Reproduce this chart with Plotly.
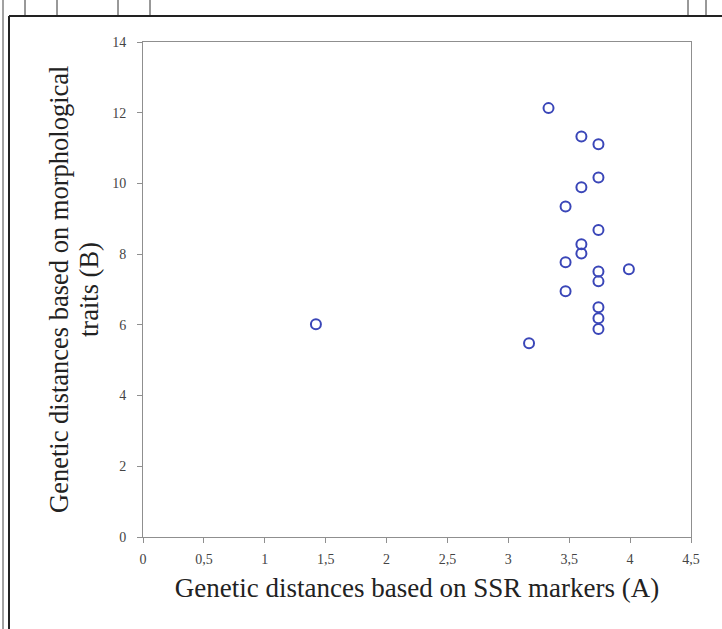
import plotly.graph_objects as go

# Data
ssr_distance = [1.42, 3.17, 3.33, 3.60, 3.74, 3.74, 3.60, 3.47, 3.74, 3.60, 3.60,
                3.47, 3.99, 3.74, 3.74, 3.47, 3.74, 3.74, 3.74]
morph_distance = [6.02, 5.48, 12.13, 11.33, 11.11, 10.17, 9.89, 9.35, 8.68, 8.28, 8.02,
                  7.77, 7.57, 7.51, 7.23, 6.95, 6.50, 6.19, 5.88]

x_tick_vals = [0, 0.5, 1, 1.5, 2, 2.5, 3, 3.5, 4, 4.5]
x_tick_text = ["0", "0,5", "1", "1,5", "2", "2,5", "3", "3,5", "4", "4,5"]
y_tick_vals = [0, 2, 4, 6, 8, 10, 12, 14]
y_title_lines = ["Genetic distances based on morphological", "traits (B)"]

W, H = 722, 629
L, R, T, B = 143, 31, 42, 92
pw, ph = W - L - R, H - T - B

def px(x):
    return (x - L) / pw

def py(y):
    return (H - B - y) / ph

fig = go.Figure()
fig.add_trace(go.Scatter(
    x=ssr_distance, y=morph_distance, mode="markers",
    marker=dict(symbol="circle-open", size=10, color="#3a46b8",
                line=dict(width=2, color="#3a46b8")),
    showlegend=False, hoverinfo="x+y"))

axis_common = dict(showgrid=False, zeroline=False, showline=True, linecolor="#8f8f8f",
                   linewidth=1, ticks="outside", ticklen=5, tickcolor="#8f8f8f",
                   mirror=True,
                   tickfont=dict(family="Liberation Serif", size=14, color="#444444"))

fig.update_xaxes(range=[0, 4.5], tickvals=x_tick_vals, ticktext=x_tick_text,
                 ticklabelstandoff=4,
                 title=dict(text="Genetic distances based on SSR markers (A)",
                            font=dict(family="Liberation Serif", size=27, color="#222222"),
                            standoff=12),
                 **axis_common)
fig.update_yaxes(range=[0, 14], tickvals=y_tick_vals, ticklabelstandoff=8,
                 **axis_common)

# Y-axis title as two rotated lines (reference has tighter line spacing)
title_font = dict(family="Liberation Serif", size=26.5, color="#222222")
for line_text, cx in zip(y_title_lines, [59, 89]):
    fig.add_annotation(text=line_text, textangle=-90, showarrow=False,
                       xref="paper", yref="paper", x=px(cx), y=py(290),
                       xanchor="center", yanchor="middle", font=title_font)

# Scan frame lines around the figure
shapes = [
    dict(type="line", xref="paper", yref="paper", x0=px(9), x1=px(722), y0=py(16), y1=py(16),
         line=dict(color="#222222", width=2)),
    dict(type="line", xref="paper", yref="paper", x0=px(9), x1=px(9), y0=py(16), y1=py(629),
         line=dict(color="#222222", width=2)),
    dict(type="line", xref="paper", yref="paper", x0=px(3), x1=px(3), y0=py(0), y1=py(629),
         line=dict(color="#444444", width=1)),
]
for xv in [25, 57, 118, 150, 688, 706]:
    shapes.append(dict(type="line", xref="paper", yref="paper", x0=px(xv), x1=px(xv),
                       y0=py(0), y1=py(15), line=dict(color="#333333", width=1)))
fig.update_layout(shapes=shapes)

fig.update_layout(width=W, height=H, margin=dict(l=L, r=R, t=T, b=B),
                  plot_bgcolor="white", paper_bgcolor="white")

fig.write_html("out.html")
